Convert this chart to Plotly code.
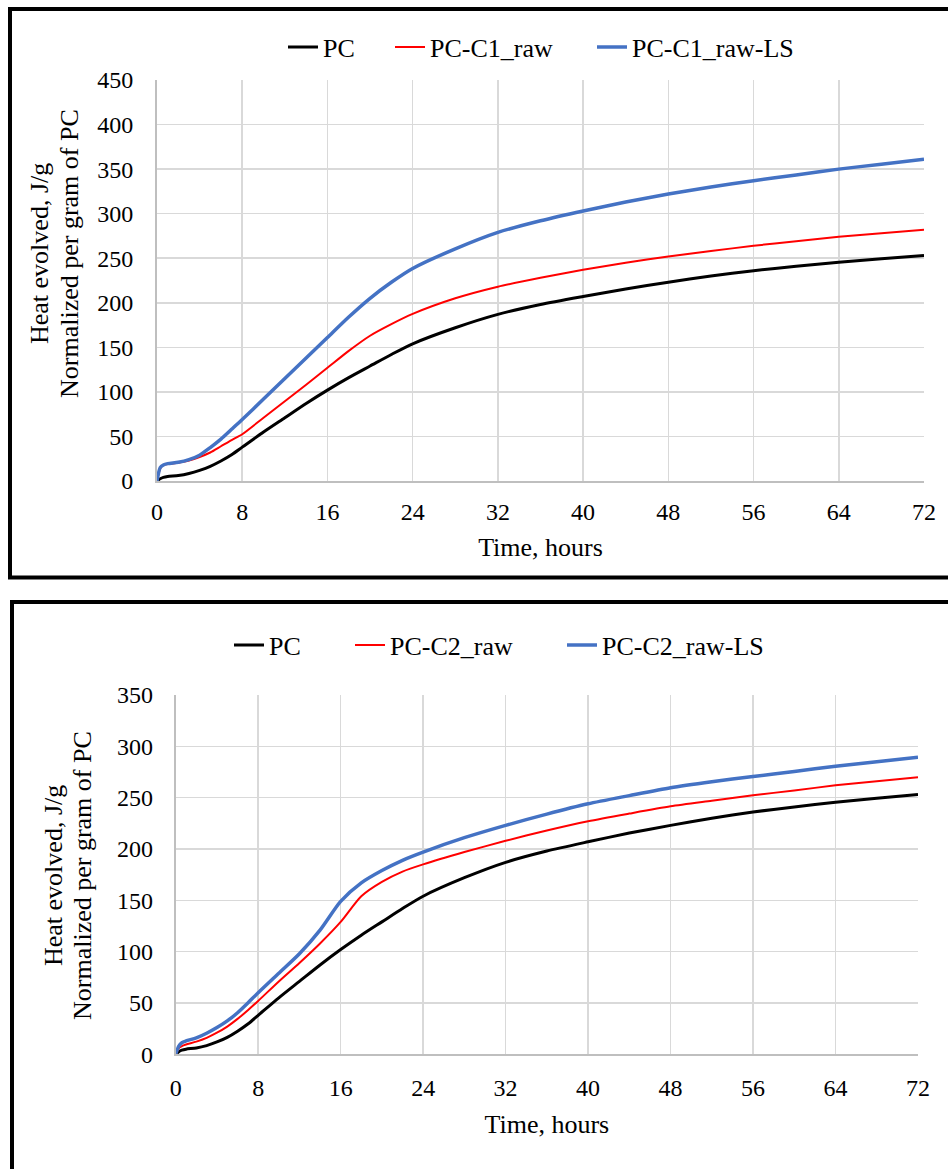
import plotly.graph_objects as go

# ---------------- data ----------------
hours = [0, 0.3, 0.6, 1, 2, 3, 4, 5, 6, 7, 8, 10, 12, 14, 16, 18, 20, 22, 24,
         28, 32, 36, 40, 44, 48, 52, 56, 60, 64, 68, 72]

pc = [0, 2.5, 4, 5, 6.2, 8.5, 12, 16.5, 22.5, 29.5, 38, 55, 71, 87, 102, 116, 129, 142, 154,
      172, 187, 198, 207, 215.5, 223, 230, 236, 241, 245.5, 249.5, 253]

pc_c1_raw = [0, 14, 18, 19, 20.6, 23, 27, 32, 39, 46, 52.5, 71, 89.5, 108, 127, 146, 163, 176, 187.5,
             205, 218, 228, 237, 245, 252, 258, 264, 269, 274, 278, 282]

pc_c1_raw_ls = [0, 15, 18, 19.5, 21, 24, 29, 37.5, 47, 58, 69, 92, 115, 138, 161, 184, 205, 223, 238.5,
                260.5, 279, 292, 303, 313, 322, 330, 337, 343.5, 350, 355.5, 361]

pc_c2_raw = [0, 6, 8, 9.5, 12.3, 16, 21, 27, 34.5, 43, 52, 71, 89, 108, 129, 154, 168, 178, 185,
             197, 208, 218, 227, 234.5, 241.6, 247, 252.3, 257, 262, 266, 270]

pc_c2_raw_ls = [0, 8, 11.3, 13, 16, 20.5, 26, 32.5, 40.5, 50, 60, 79, 98, 121, 149, 167, 179, 189, 197,
                211, 223, 234, 244, 252, 259.7, 265.5, 270.6, 275.5, 280.6, 285, 289.4]

top_names = ["PC", "PC-C1_raw", "PC-C1_raw-LS"]
bottom_names = ["PC", "PC-C2_raw", "PC-C2_raw-LS"]
x_ticks = [0, 8, 16, 24, 32, 40, 48, 56, 64, 72]
y_title_1 = "Heat evolved, J/g"
y_title_2 = "Normalized per gram of PC"
x_title = "Time, hours"

# ---------------- styling ----------------
W, H = 948, 1169
FONT = "Liberation Serif"
COLORS = ["#000000", "#FF0000", "#4472C4"]
WIDTHS = [3, 2, 3.5]
GRID = "#D9D9D9"


def fx(px):
    return px / W


def fy(py):
    return 1 - py / H


fig = go.Figure()

top_series = [pc, pc_c1_raw, pc_c1_raw_ls]
bot_series = [pc, pc_c2_raw, pc_c2_raw_ls]
top_legends = ["legend", "legend2", "legend3"]
bot_legends = ["legend4", "legend5", "legend6"]

for i, (name, vals) in enumerate(zip(top_names, top_series)):
    fig.add_trace(go.Scatter(
        x=hours, y=vals, name=name, mode="lines",
        line=dict(color=COLORS[i], width=WIDTHS[i], shape="spline", smoothing=0.7),
        xaxis="x", yaxis="y", legend=top_legends[i]))

for i, (name, vals) in enumerate(zip(bottom_names, bot_series)):
    fig.add_trace(go.Scatter(
        x=hours, y=vals, name=name, mode="lines",
        line=dict(color=COLORS[i], width=WIDTHS[i], shape="spline", smoothing=0.7),
        xaxis="x2", yaxis="y2", legend=bot_legends[i]))

axis_common = dict(
    showgrid=True, gridcolor=GRID, gridwidth=1.5,
    showline=True, linecolor="#BFBFBF", linewidth=2,
    zeroline=False, ticks="outside", tickcolor="rgba(0,0,0,0)",
    tickfont=dict(family=FONT, size=24, color="#000000"),
    automargin=False, fixedrange=True,
)

fig.update_layout(
    width=W, height=H,
    margin=dict(l=0, r=0, t=0, b=0),
    paper_bgcolor="white", plot_bgcolor="white",
    font=dict(family=FONT, color="#000000"),
    xaxis=dict(axis_common, domain=[fx(157), fx(924)], anchor="y",
               range=[0, 72], tickvals=x_ticks, ticklen=8,
               title=dict(text=x_title, font=dict(family=FONT, size=26), standoff=14)),
    yaxis=dict(axis_common, domain=[fy(481), fy(80)], anchor="x",
               range=[0, 450], dtick=50, ticklen=17),
    xaxis2=dict(axis_common, domain=[fx(175.7), fx(918)], anchor="y2",
                range=[0, 72], tickvals=x_ticks, ticklen=11,
                title=dict(text=x_title, font=dict(family=FONT, size=26), standoff=15)),
    yaxis2=dict(axis_common, domain=[fy(1054.3), fy(695)], anchor="x2",
                range=[0, 350], dtick=50, ticklen=16),
    showlegend=True,
)

# legends: one per series so each entry sits where the reference puts it
top_text_x = [323, 430, 632]
bot_text_x = [269, 390, 602]
for key, tx in zip(top_legends, top_text_x):
    fig.update_layout({key: dict(x=fx(tx - 40), xanchor="left", y=fy(47), yanchor="middle",
                                 orientation="h", bgcolor="rgba(0,0,0,0)", borderwidth=0,
                                 font=dict(family=FONT, size=26, color="#000000"))})
for key, tx in zip(bot_legends, bot_text_x):
    fig.update_layout({key: dict(x=fx(tx - 40), xanchor="left", y=fy(645), yanchor="middle",
                                 orientation="h", bgcolor="rgba(0,0,0,0)", borderwidth=0,
                                 font=dict(family=FONT, size=26, color="#000000"))})

# y-axis titles (two lines, rotated)
annos = []
for (lx, ly, txt) in [(40, 254, y_title_1), (70, 254, y_title_2),
                      (53, 876, y_title_1), (82, 876, y_title_2)]:
    annos.append(dict(text=txt, x=fx(lx), y=fy(ly), xref="paper", yref="paper",
                      xanchor="center", yanchor="middle", textangle=-90, showarrow=False,
                      font=dict(family=FONT, size=26, color="#000000")))
fig.update_layout(annotations=annos)

# panel frames
fig.update_layout(shapes=[
    dict(type="rect", xref="paper", yref="paper", x0=fx(10), y0=fy(577.5), x1=fx(975), y1=fy(9),
         line=dict(color="#000000", width=4), layer="below"),
    dict(type="rect", xref="paper", yref="paper", x0=fx(12), y0=fy(1200), x1=fx(975), y1=fy(602),
         line=dict(color="#000000", width=4), layer="below"),
])

# remove the default page margin so the figure fills the window exactly
fig.write_html("out.html",
               config={"displayModeBar": False, "staticPlot": True},
               post_script="document.body.style.margin='0px';document.body.style.overflow='hidden';")
